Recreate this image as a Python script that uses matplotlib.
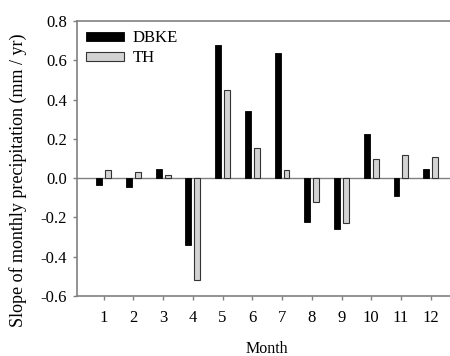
import matplotlib.pyplot as plt
import numpy as np

months = np.arange(1, 13)
dbke = [-0.035, -0.047, 0.046, -0.34, 0.68, 0.343, 0.638, -0.222, -0.261, 0.224, -0.09, 0.049]
th = [0.04, 0.032, 0.015, -0.52, 0.45, 0.151, 0.039, -0.12, -0.226, 0.098, 0.12, 0.107]

plt.rcParams['font.family'] = 'Liberation Serif'
plt.rcParams['font.size'] = 12

fig = plt.figure(figsize=[4.5, 3.56], dpi=100)
ax = fig.add_axes([0.171, 0.1685, 0.829, 0.7725])

w = 0.2
ax.bar(months - 0.15, dbke, width=w, color='black', edgecolor='black', linewidth=0.6, label='DBKE', zorder=3)
ax.bar(months + 0.15, th, width=w, color='#d3d3d3', edgecolor='#333333', linewidth=0.8, label='TH', zorder=3)
ax.axhline(0, color='#808080', linewidth=1.0, zorder=2)

ax.set_xlim(0.1, 12.65)
ax.set_ylim(-0.6, 0.8)
ax.set_xticks(months)
ax.set_yticks(np.arange(-0.6, 0.81, 0.2))
ax.yaxis.set_major_formatter(plt.FormatStrFormatter('%.1f'))

for s in ['left', 'top', 'bottom']:
    ax.spines[s].set_color('#808080')
    ax.spines[s].set_linewidth(1.2)
ax.spines['right'].set_visible(False)
ax.tick_params(direction='out', length=3, color='#808080', width=1, labelsize=12)
ax.tick_params(axis='x', pad=7)
ax.tick_params(axis='y', pad=4)

ax.set_xlabel('Month', fontsize=11.5)
ax.xaxis.set_label_coords(0.51, -0.165)
ax.set_ylabel('Slope of monthly precipitation (mm / yr)', fontsize=13)
ax.yaxis.set_label_coords(-0.134, 0.42)

ax.legend(loc='upper left', bbox_to_anchor=(0.0, 1.0), frameon=False, handlelength=2.3, handleheight=0.5,
          handletextpad=0.5, labelspacing=0.25, borderaxespad=0.15, fontsize=12)

plt.savefig('out.png', dpi=100)
